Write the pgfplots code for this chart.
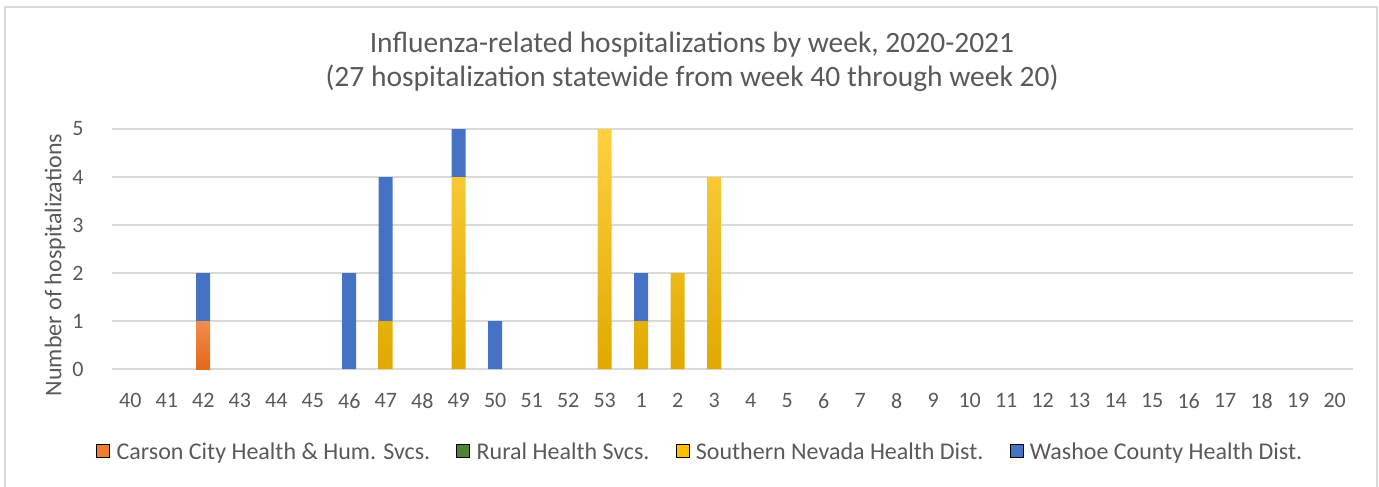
\documentclass[border=0pt]{standalone}
\usepackage{pgfplots}
\pgfplotsset{compat=1.18}
\usepackage{pgfplotstable}
\usepackage{fontspec}
\setmainfont{Carlito}
\definecolor{txt}{HTML}{595959}
\definecolor{gridc}{HTML}{D9D9D9}
\definecolor{corange}{HTML}{ED7D31}
\definecolor{cgreen}{HTML}{548235}
\definecolor{cgold}{HTML}{FFC000}
\definecolor{cblue}{HTML}{4472C4}
\definecolor{otop}{HTML}{F28C4C}
\definecolor{obot}{HTML}{E3681A}
\pgfplotstableread{
x carson rural southern washoe
0 0 0 0 0
1 0 0 0 0
2 1 0 0 1
3 0 0 0 0
4 0 0 0 0
5 0 0 0 0
6 0 0 0 2
7 0 0 1 3
8 0 0 0 0
9 0 0 4 1
10 0 0 0 1
11 0 0 0 0
12 0 0 0 0
13 0 0 5 0
14 0 0 1 1
15 0 0 2 0
16 0 0 4 0
17 0 0 0 0
18 0 0 0 0
19 0 0 0 0
20 0 0 0 0
21 0 0 0 0
22 0 0 0 0
23 0 0 0 0
24 0 0 0 0
25 0 0 0 0
26 0 0 0 0
27 0 0 0 0
28 0 0 0 0
29 0 0 0 0
30 0 0 0 0
31 0 0 0 0
32 0 0 0 0
33 0 0 0 0
}\datatable
\begin{document}
\begin{tikzpicture}
\useasboundingbox (0pt,0pt) rectangle (1379pt,-487pt);
\draw[gridc, line width=1.5pt] (5pt,-495pt) -- (5pt,-7pt) -- (1377pt,-7pt) -- (1377pt,-495pt);
\begin{axis}[
  at={(112pt,-369pt)}, anchor=south west,
  scale only axis, width=1241pt, height=240pt,
  ybar stacked, bar width=14pt,
  xmin=-0.5, xmax=33.5, ymin=0, ymax=5,
  xtick={0,...,33},
  xticklabels={40,41,42,43,44,45,46,47,48,49,50,51,52,53,1,2,3,4,5,6,7,8,9,10,11,12,13,14,15,16,17,18,19,20},
  ytick={0,...,5},
  xmajorgrids=false, ymajorgrids=true,
  grid style={draw=gridc, line width=1.2pt},
  axis lines*=left,
  y axis line style={draw=none},
  x axis line style={draw=gridc, line width=1.2pt, -},
  major tick length=0pt,
  tick label style={font=\fontsize{22}{26}\selectfont, text=txt},
  /pgf/number format/assume math mode=true,
  xticklabel style={yshift=-21pt},
  yticklabel style={anchor=east, xshift=-25pt},
  legend columns=4,
  legend style={at={(0.474,-0.346)}, anchor=center, draw=none, fill=none,
    font=\fontsize{24}{28}\selectfont, text=txt,
    /tikz/every odd column/.append style={column sep=5pt},
    /tikz/every even column/.append style={column sep=24pt}},
  legend image code/.code={\fill[#1] (0pt,-5pt) rectangle (13pt,8pt);},
  clip=false,
]
\addplot[draw=none, top color=otop, middle color=corange, bottom color=obot, forget plot] table[x=x,y=carson]{\datatable};
\addplot[draw=none, fill=cgreen, forget plot] table[x=x,y=rural]{\datatable};
\addplot[draw=none, top color=cgold!75!white, middle color=cgold, bottom color=cgold!88!black, forget plot] table[x=x,y=southern]{\datatable};
\addplot[draw=none, fill=cblue, forget plot] table[x=x,y=washoe]{\datatable};
\addlegendimage{fill=corange}
\addlegendentry{Carson City Health \& Hum. Svcs.}
\addlegendimage{fill=cgreen}
\addlegendentry{Rural Health Svcs.}
\addlegendimage{fill=cgold}
\addlegendentry{Southern Nevada Health Dist.}
\addlegendimage{fill=cblue}
\addlegendentry{Washoe County Health Dist.}
\end{axis}
\node[text=txt, font=\fontsize{29.5}{34}\selectfont] at (692pt,-45pt) {Influenza-related hospitalizations by week, 2020-2021};
\node[text=txt, font=\fontsize{29.5}{34}\selectfont] at (692pt,-78pt) {(27 hospitalization statewide from week 40 through week 20)};
\node[text=txt, font=\fontsize{24}{28}\selectfont, rotate=90] at (55pt,-265pt) {Number of hospitalizations};
\end{tikzpicture}
\end{document}
